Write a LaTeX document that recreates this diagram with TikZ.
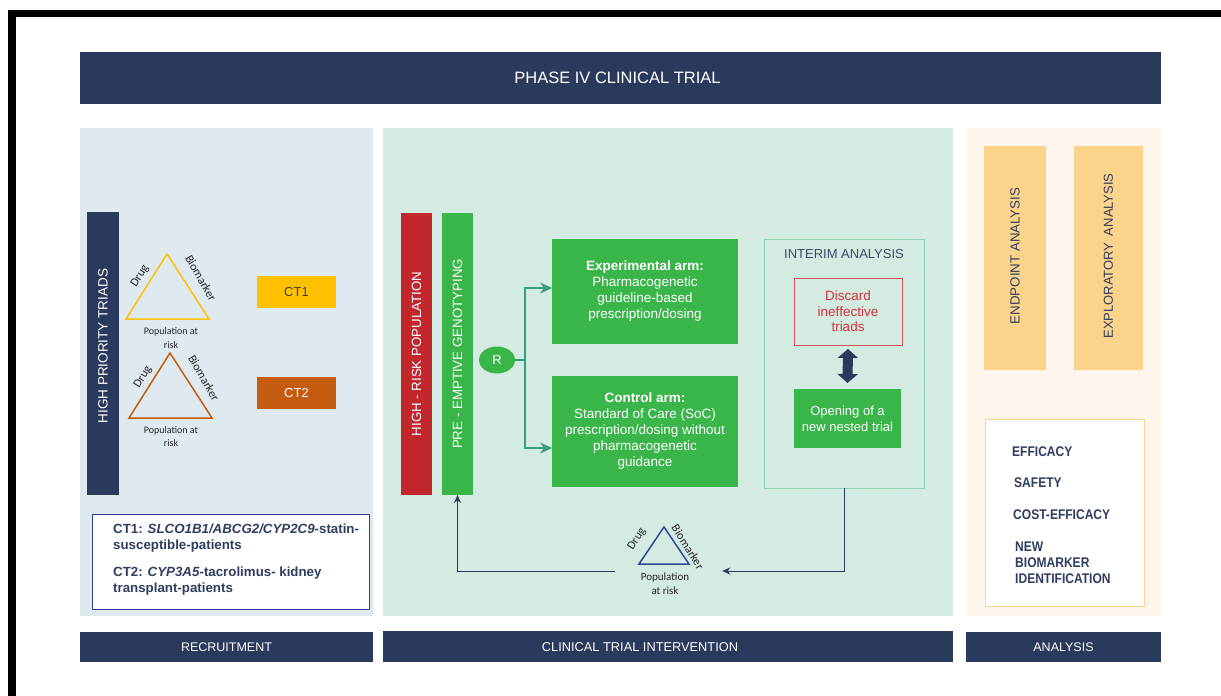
\documentclass[tikz,border=0pt]{standalone}
\usepackage{fontspec}
\setmainfont{Liberation Sans}
\newfontfamily\calib{Carlito}
\newfontfamily\narrowsans[FakeStretch=0.86]{Liberation Sans}
\usetikzlibrary{arrows.meta,shapes.geometric}

\definecolor{navy}{HTML}{2A3A5C}
\definecolor{navytext}{HTML}{2F3D60}
\definecolor{leftbg}{HTML}{DFEAF0}
\definecolor{midbg}{HTML}{D4EBE1}
\definecolor{rightbg}{HTML}{FEF6EC}
\definecolor{riskred}{HTML}{C1272D}
\definecolor{armgreen}{HTML}{3AB54A}
\definecolor{ctyellow}{HTML}{FFC000}
\definecolor{ctorange}{HTML}{C55A11}
\definecolor{paleorange}{HTML}{FCD38A}
\definecolor{tealline}{HTML}{3A9E7E}
\definecolor{interimline}{HTML}{8FD0B0}
\definecolor{discardred}{HTML}{D0343C}
\definecolor{legendblue}{HTML}{2F3B8C}
\definecolor{triblue}{HTML}{2E4A9A}
\definecolor{labelgray}{HTML}{3D4A6B}

\newcommand{\fs}[2]{\fontsize{#1}{#2}\selectfont}

\begin{document}
\begin{tikzpicture}[x=1pt,y=-1pt,
  block/.style={inner sep=0pt, outer sep=0pt, align=center},
  navybar/.style={block, fill=navy, text=white},
  vbar/.style={block, text=white, font=\fs{13.3}{15}},
  armbox/.style={block, fill=armgreen, text=white, font=\fs{13.5}{16}},
  trilabel/.style={inner sep=0pt, font=\calib\fs{12}{13}, text=black!85},
  popl/.style={inner sep=0pt, align=center, font=\calib\fs{10}{13.5}, text=black!85},
  outl/.style={inner sep=0pt, anchor=west, align=left, text=navytext,
    font=\narrowsans\bfseries\fs{14}{16}},
  teal arrow/.style={draw=tealline, line width=1.5pt,
    -{Stealth[length=12pt,width=11pt,inset=4pt]}},
  navy arrow/.style={draw=navy, line width=1pt,
    -{Stealth[length=8pt,width=7pt,inset=2.5pt]}}]

\useasboundingbox (0,0) rectangle (1221,696);
\fill[white] (0,0) rectangle (1221,696);

% frame edges
\fill[black] (8,10) rectangle (1221,17);
\fill[black] (8,10) rectangle (16,696);

% title and footer bars
\node[navybar, minimum width=1081pt, minimum height=52pt]
  (title) at (620.5,78) {};
\node[text=white, inner sep=0pt, font=\fs{16.5}{18}] (titletext) at (617.5,78)
  {PHASE IV CLINICAL TRIAL};
\node[navybar, minimum width=293pt, minimum height=30pt, font=\fs{12.5}{15}]
  (recruit) at (226.5,647) {RECRUITMENT};
\node[navybar, minimum width=570pt, minimum height=31pt]
  (cti) at (668,646.5) {};
\node[text=white, inner sep=0pt, font=\fs{12.8}{15}] (ctitext) at (640,647)
  {CLINICAL TRIAL INTERVENTION};
\node[navybar, minimum width=195pt, minimum height=30pt, font=\fs{12.5}{15}]
  (analysis) at (1063.5,647) {ANALYSIS};

% section backgrounds
\fill[leftbg] (80,128) rectangle (373,616);
\fill[midbg] (383,128) rectangle (953,616);
\fill[rightbg] (966,128) rectangle (1161,616);

% ---------------- recruitment ----------------
\node[vbar, fill=navy, minimum width=32pt, minimum height=283pt]
  (triads) at (103,353.5) {};
\node[text=white, inner sep=0pt, rotate=90, font=\fs{13.5}{15}] (triadstext)
  at (103,346) {HIGH PRIORITY TRIADS};

\draw[ctyellow, line width=1.5pt] (167,254) -- (126,319) -- (209,319) -- cycle;
\node[trilabel, rotate=58] (drugA) at (140,276) {Drug};
\node[trilabel, rotate=-60] (bioA) at (201,278) {Biomarker};
\node[popl] (popA) at (171,338) {Population at\\risk};
\node[block, fill=ctyellow, text=black!75, minimum width=79pt, minimum height=32pt,
  font=\fs{13}{15}] (ct1) at (296.5,292) {CT1};

\draw[ctorange, line width=1.5pt] (170,353) -- (129,418) -- (212,418) -- cycle;
\node[trilabel, rotate=58] (drugB) at (143,377) {Drug};
\node[trilabel, rotate=-60] (bioB) at (204,378) {Biomarker};
\node[popl] (popB) at (171,436.5) {Population at\\risk};
\node[block, fill=ctorange, text=white, minimum width=79pt, minimum height=32pt,
  font=\fs{13}{15}] (ct2) at (296.5,393) {CT2};

\node[block, fill=white, draw=legendblue, line width=0.8pt,
  minimum width=277pt, minimum height=95pt] (legend) at (230.5,561.5) {};
\node[inner sep=0pt, anchor=west, align=left, text=navytext,
  font=\bfseries\fs{13.3}{16}] (legendtext) at (113,560)
  {CT1: \textit{SLCO1B1/ABCG2/CYP2C9}-statin-\\susceptible-patients\\[11pt]
   CT2: \textit{CYP3A5}-tacrolimus- kidney\\transplant-patients};

% ---------------- intervention ----------------
\node[vbar, fill=riskred, minimum width=31pt, minimum height=282pt]
  (risk) at (416.5,354) {\rotatebox{90}{HIGH - RISK POPULATION}};
\node[vbar, fill=armgreen, minimum width=31pt, minimum height=282pt]
  (geno) at (457.5,354) {\rotatebox{90}{PRE - EMPTIVE GENOTYPING}};

\node[ellipse, fill=armgreen, text=white, inner sep=0pt, minimum width=36pt,
  minimum height=27pt, font=\fs{13}{15}] (R) at (497,360) {R};

\node[armbox, minimum width=186pt, minimum height=105pt] (exp) at (645,291.5)
  {\textbf{Experimental arm:}\\Pharmacogenetic\\guideline-based\\prescription/dosing};
\node[armbox, minimum width=186pt, minimum height=111pt] (ctrl) at (645,431.5)
  {\textbf{Control arm:}\\Standard of Care (SoC)\\prescription/dosing without\\pharmacogenetic\\guidance};

\coordinate (fork) at (525,360);
\draw[draw=tealline, line width=1.5pt] (R.east) -- (fork);
\draw[teal arrow] (fork) |- ([yshift=3.5pt]exp.west);
\draw[teal arrow] (fork) |- ([yshift=-16.5pt]ctrl.west);

\node[block, draw=interimline, line width=0.8pt, minimum width=160pt,
  minimum height=249pt] (interim) at (844,363.5) {};
\node[inner sep=0pt, text=labelgray, font=\fs{13}{15}] (interimtitle)
  at (844,254) {INTERIM ANALYSIS};
\node[block, draw=discardred!85, line width=0.8pt, text=discardred,
  minimum width=108pt, minimum height=67pt, font=\fs{13.5}{15.5}]
  (discard) at (848,311.5) {Discard\\ineffective\\triads};
\node[armbox, minimum width=107pt, minimum height=59pt, font=\fs{13}{16}]
  (open) at (847.5,418.5) {Opening of a\\new nested trial};
\draw[navy, line width=10pt,
  {Triangle[width=20pt,length=9pt]}-{Triangle[width=20pt,length=9pt]}]
  ([yshift=-4pt]discard.south) -- ([yshift=6pt]open.north);

% triad returned to the genotyping step
\node[inner sep=0pt, minimum width=107pt, minimum height=70pt] (triad) at (668.5,571) {};
\draw[triblue, line width=1.5pt] (664,527) -- (639,564) -- (689,564) -- cycle;
\node[trilabel, rotate=57] (drugC) at (637,539) {Drug};
\node[trilabel, rotate=-58] (bioC) at (688,547) {Biomarker};
\node[popl, font=\calib\fs{11}{13.5}] (popC) at (665,583.5) {Population\\at risk};

\draw[navy arrow] (interim.south) |- (triad.east);
\draw[navy arrow] (triad.west) -| (geno.south);

% ---------------- analysis ----------------
\node[block, fill=paleorange, minimum width=62pt, minimum height=224pt]
  (endpoint) at (1015,258) {};
\node[text=navytext, inner sep=0pt, rotate=90, font=\fs{13.3}{15}] (endpointtext)
  at (1015,256) {ENDPOINT ANALYSIS};
\node[block, fill=paleorange, minimum width=69pt, minimum height=224pt]
  (explor) at (1108.5,258) {};
\node[text=navytext, inner sep=0pt, rotate=90, font=\fs{13}{15}] (explortext)
  at (1108.5,256) {EXPLORATORY\enspace ANALYSIS};

\node[block, fill=white, draw=paleorange, line width=0.8pt, minimum width=159pt,
  minimum height=187pt] (outcomes) at (1064.5,512.5) {};
\node[outl] (eff) at (1012,452) {EFFICACY};
\node[outl] (safe) at (1014,483) {SAFETY};
\node[outl] (cost) at (1013,515) {COST-EFFICACY};
\node[outl] (newbio) at (1015,563) {NEW\\BIOMARKER\\IDENTIFICATION};

\end{tikzpicture}
\end{document}
